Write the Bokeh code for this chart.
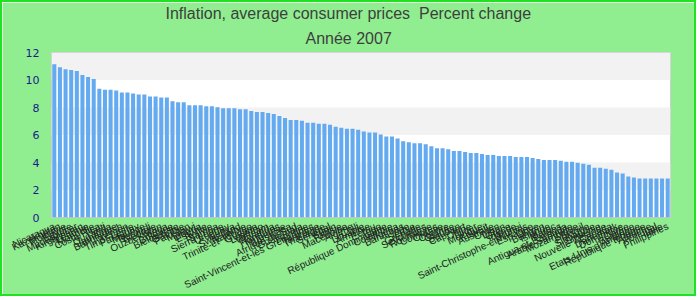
import math
from bokeh.plotting import figure
from bokeh.models import ColumnDataSource, FactorRange, Range1d, Title, FixedTicker
from bokeh.embed import file_html
from bokeh.resources import INLINE

title_main = "Inflation, average consumer prices \u00a0Percent change"
title_sub = "Année 2007"

countries = [
    "Nicaragua", "Kazakhstan", "Moldavie", "Égypte", "Madagascar", "Kirghizistan", "Lettonie", "Mongolie", "Costa Rica", "Haïti",
    "Ouganda", "Jamaïque", "Bangladesh", "Yémen", "Timor-Leste", "Paraguay", "Maurice", "Burundi", "Géorgie", "Ouzbékistan",
    "Tonga", "Bulgarie", "Biélorussie", "Gambie", "Pakistan", "Malawi", "Liberia", "Estonie", "Bolivie", "Samoa",
    "Sierra Leone", "Uruguay", "Kenya", "Swaziland", "Namibie", "Trinité-et-Tobago", "Guyana", "Lesotho", "Vietnam", "Rwanda",
    "Honduras", "Indonésie", "Botswana", "Afrique du Sud", "Guatemala", "Hongrie", "Saint-Vincent-et-les Grenadines", "Tanzanie", "Thaïlande", "Sénégal",
    "Bénin", "Tunisie", "Macédoine", "Algérie", "Chili", "Lituanie", "Arménie", "Pérou", "Togo", "République Dominicaine",
    "Colombie", "Nigeria", "Bahamas", "Inde", "Serbie", "Grenade", "Seychelles", "Roumanie", "Comores", "Croatie",
    "Chypre", "Guinée", "Soudan", "Cap-Vert", "Chine", "Niger", "Mexique", "Koweït", "Australie", "Oman",
    "Liban", "Grèce", "Irlande", "Brunei", "Saint-Christophe-et-Niévès", "Espagne", "Libye", "Bahreïn", "Islande", "Maroc",
    "Palaos", "Antigua-et-Barbuda", "Arabie Saoudite", "Mozambique", "Brésil", "Pologne", "Slovaquie", "Slovénie", "Nouvelle-Zélande", "Canada",
    "Danemark", "Dominique", "Corée", "Belgique", "Etats-Unis d'Amérique", "République tchèque", "Autriche", "Portugal", "Italie", "Philippines",
]

inflation = [
    11.15, 10.93, 10.79, 10.72, 10.65, 10.37, 10.22, 10.08, 9.37, 9.30,
    9.30, 9.23, 9.09, 9.09, 9.02, 8.95, 8.95, 8.80, 8.80, 8.73,
    8.73, 8.45, 8.38, 8.38, 8.17, 8.17, 8.17, 8.09, 8.09, 8.02,
    7.95, 7.95, 7.95, 7.88, 7.88, 7.74, 7.67, 7.67, 7.60, 7.53,
    7.38, 7.24, 7.10, 7.10, 7.03, 6.89, 6.89, 6.82, 6.82, 6.75,
    6.60, 6.53, 6.46, 6.46, 6.39, 6.25, 6.18, 6.18, 6.04, 5.89,
    5.89, 5.75, 5.54, 5.47, 5.40, 5.40, 5.33, 5.18, 5.04, 5.04,
    4.97, 4.83, 4.83, 4.76, 4.69, 4.69, 4.62, 4.54, 4.54, 4.47,
    4.47, 4.47, 4.40, 4.40, 4.40, 4.33, 4.26, 4.19, 4.19, 4.19,
    4.12, 4.05, 4.05, 3.98, 3.91, 3.83, 3.62, 3.62, 3.55, 3.48,
    3.27, 3.20, 2.98, 2.91, 2.84, 2.84, 2.84, 2.84, 2.84, 2.84,
]

y_ticks = [0, 2, 4, 6, 8, 10, 12]

source = ColumnDataSource(data=dict(country=countries, value=inflation))

p = figure(
    width=696, height=296,
    x_range=FactorRange(factors=countries, range_padding=0),
    y_range=Range1d(0, 12),
    title=title_main,
    output_backend="svg", toolbar_location=None,
    min_border_left=49, min_border_right=28, min_border_top=49, min_border_bottom=76,
)
p.styles = {"border": "2px solid #22e022"}
p.background_fill_color = "white"
p.border_fill_color = "#90EE90"
p.outline_line_color = "#cccccc"
p.outline_line_width = 1

title_style = dict(align="left", text_font="Liberation Sans", text_font_size="16px",
                   text_font_style="normal", text_color="#3e3e3e")
for k, v in title_style.items():
    setattr(p.title, k, v)
p.title.offset = 114
p.title.standoff = 1
p.add_layout(Title(text=title_sub, standoff=11, offset=254, **title_style), "above")

p.vbar(x="country", top="value", width=0.72, source=source, color="#64aaf0", line_color=None)

p.xaxis.axis_line_color = None
p.xaxis.major_tick_line_color = None
p.xaxis.minor_tick_line_color = None
p.xaxis.major_label_orientation = math.radians(25)
p.xaxis.major_label_standoff = 2
p.xaxis.major_label_text_font = "Liberation Sans"
p.xaxis.major_label_text_font_size = "10px"
p.xaxis.major_label_text_line_height = 0.8
p.xaxis.major_label_text_color = "#222222"

p.xgrid.grid_line_color = None
p.ygrid.grid_line_color = None
p.ygrid.band_fill_color = "#f2f2f2"
p.ygrid.band_fill_alpha = 1.0

p.yaxis.ticker = FixedTicker(ticks=y_ticks)
p.yaxis.axis_line_color = None
p.yaxis.major_tick_line_color = None
p.yaxis.minor_tick_line_color = None
p.yaxis.major_label_standoff = 6
p.yaxis.major_label_text_font = "DejaVu Sans"
p.yaxis.major_label_text_font_size = "11px"
p.yaxis.major_label_text_color = "#1a1a8c"

open("out.html", "w").write(file_html(p, INLINE))
